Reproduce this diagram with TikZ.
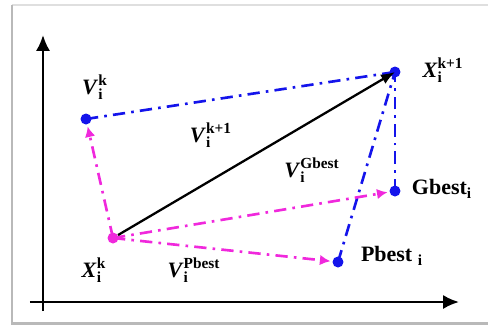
\documentclass[tikz,border=0pt]{standalone}
\usepackage{amsmath}
\usepackage{fontspec}
\setmainfont{Liberation Serif}
\usetikzlibrary{arrows.meta}

\definecolor{ptblue}{RGB}{20,20,235}
\definecolor{ptpink}{RGB}{240,40,220}

\newcommand{\vlab}[3]{$\textbf{\textit{#1}}_{\textbf{#2}}^{\textbf{#3}}$}

\begin{document}
\begin{tikzpicture}[x=0.02cm,y=-0.02cm,
    font=\fontsize{12.5}{14}\selectfont,
    dot/.style={circle,fill=ptblue,inner sep=0pt,minimum size=0.22cm},
    dashdot/.style={line width=1.5pt,dash pattern=on 7pt off 3.5pt on 1.5pt off 3.5pt},
    bluedd/.style={dashdot,ptblue},
    pinkdd/.style={dashdot,ptpink,-{Latex[length=6pt,width=6pt]},shorten >=1pt}]
  \useasboundingbox (0,0) rectangle (488,329);
  % frame
  \draw[gray!25,line width=0.6pt] (12,5) -- (488,5);
  \draw[gray!55,line width=1.6pt] (12,5) -- (12,323.5) -- (488,323.5);

  % axes
  \draw[line width=1.4pt,-{Latex[length=9pt,width=8pt]}] (43,311) -- (43,35);
  \draw[line width=1.4pt,-{Latex[length=9pt,width=8pt]}] (30,302) -- (459,302);

  % points
  \node[dot] (vk) at (86,119) {};
  \node[dot,fill=ptpink] (xk) at (113,238) {};
  \node[dot] (xk1) at (395,72) {};
  \node[dot] (gbest) at (395,191) {};
  \node[dot] (pbest) at (338,262) {};

  % connectors
  \draw[bluedd] (vk.center) -- (xk1.center);
  \draw[bluedd] (pbest.center) -- (xk1.center);
  \draw[bluedd] (gbest.center) -- (xk1.center);
  \draw[pinkdd] (xk.center) -- (vk);
  \draw[pinkdd] (xk.center) -- (gbest);
  \draw[pinkdd] (xk.center) -- (pbest);
  \draw[line width=1.3pt,-{Latex[length=8pt,width=6pt]}] (xk) -- (xk1.center);

  % labels
  \node (lvk) at (95,87) {\vlab{V}{i}{k}};
  \node (lvk1) at (211,135) {\vlab{V}{i}{k+1}};
  \node (lvg) at (312,170) {\vlab{V}{i}{Gbest}};
  \node (lvp) at (194,270) {\vlab{V}{i}{Pbest}};
  \node (lxk) at (94,270) {\vlab{X}{i}{k}};
  \node (lxk1) at (443,70) {\vlab{X}{i}{k+1}};
  \node (lg) at (442,189) {\textbf{Gbest$_{\textbf{i}}$}};
  \node (lp) at (392,256) {\textbf{Pbest $_{\textbf{i}}$}};
\end{tikzpicture}
\end{document}
